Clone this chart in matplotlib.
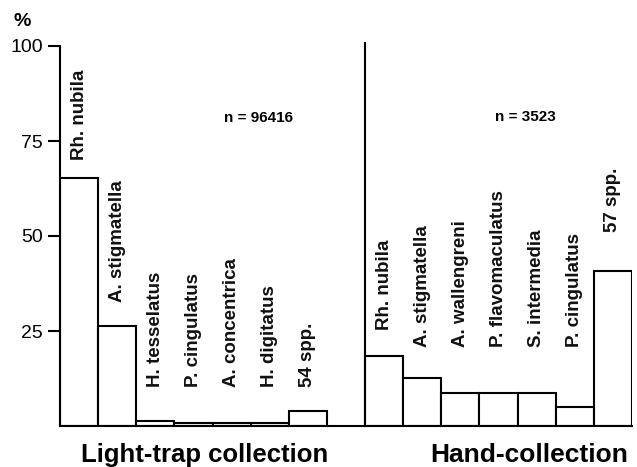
import matplotlib
matplotlib.use("Agg")
import matplotlib.pyplot as plt

plt.rcParams['font.family'] = ['Liberation Sans', 'DejaVu Sans']

# Light-trap collection (n = 96416)
light_species = ["Rh. nubila", "A. stigmatella", "H. tesselatus", "P. cingulatus",
                 "A. concentrica", "H. digitatus", "54 spp."]
light_pct = [65.3, 26.3, 1.4, 0.9, 0.9, 0.9, 3.9]

# Hand-collection (n = 3523)
hand_species = ["Rh. nubila", "A. stigmatella", "A. wallengreni", "P. flavomaculatus",
                "S. intermedia", "P. cingulatus", "57 spp."]
hand_pct = [18.4, 12.6, 8.6, 8.6, 8.6, 5.0, 40.9]

y_ticks = [25, 50, 75, 100]
y_tick_labels = ["25", "50", "75", "100"]

# Baseline (in %) for the rotated species names
light_label_y = [70.0, 32.6, 10.2, 10.2, 10.2, 10.2, 10.2]
hand_label_y = [25.3, 20.8, 20.8, 20.8, 20.8, 20.8, 51.0]

fig = plt.figure(figsize=(6.37, 4.67), dpi=100)
ax = fig.add_axes([60 / 637, 41 / 467, 572 / 637, 380 / 467])

lw = 1.5
left_x = list(range(len(light_pct)))
right_x = [8 + i for i in range(len(hand_pct))]

ax.bar(left_x, light_pct, width=1.0, align='edge', facecolor='white',
       edgecolor='black', linewidth=lw)
ax.bar(right_x, hand_pct, width=1.0, align='edge', facecolor='white',
       edgecolor='black', linewidth=lw)

# Divider between the two collections
ax.plot([8, 8], [0, 100.8], color='black', linewidth=lw, clip_on=False)

lab_kw = dict(rotation=90, ha='center', va='bottom', fontsize=13.5,
              fontweight='bold', color='#111111')
for x, name, ly in zip(left_x, light_species, light_label_y):
    ax.text(x + 0.5, ly, name, **lab_kw)
for x, name, ly in zip(right_x, hand_species, hand_label_y):
    ax.text(x + 0.5, ly, name, **lab_kw)

ax.text(5.2, 81.0, "n = 96416", ha='center', va='center', fontsize=11,
        fontweight='bold')
ax.text(12.2, 81.2, "n = 3523", ha='center', va='center', fontsize=11,
        fontweight='bold')

ax.set_xlim(0, 15)
ax.set_ylim(0, 100)
for s in ['top', 'right']:
    ax.spines[s].set_visible(False)
ax.spines['left'].set_linewidth(lw)
ax.spines['bottom'].set_linewidth(lw)
ax.set_xticks([])
ax.set_yticks(y_ticks)
ax.set_yticklabels(y_tick_labels, fontsize=14)
ax.tick_params(axis='y', length=8.5, width=lw, pad=4)

fig.text(22 / 637, 1 - 22 / 467, "%", ha='center', va='center', fontsize=14,
         fontweight='bold')
fig.text(205 / 637, 1 - 455 / 467, "Light-trap collection", ha='center',
         va='center', fontsize=18.5, fontweight='bold')
fig.text(529 / 637, 1 - 455 / 467, "Hand-collection", ha='center',
         va='center', fontsize=19, fontweight='bold')

fig.savefig("out.png", dpi=100)
